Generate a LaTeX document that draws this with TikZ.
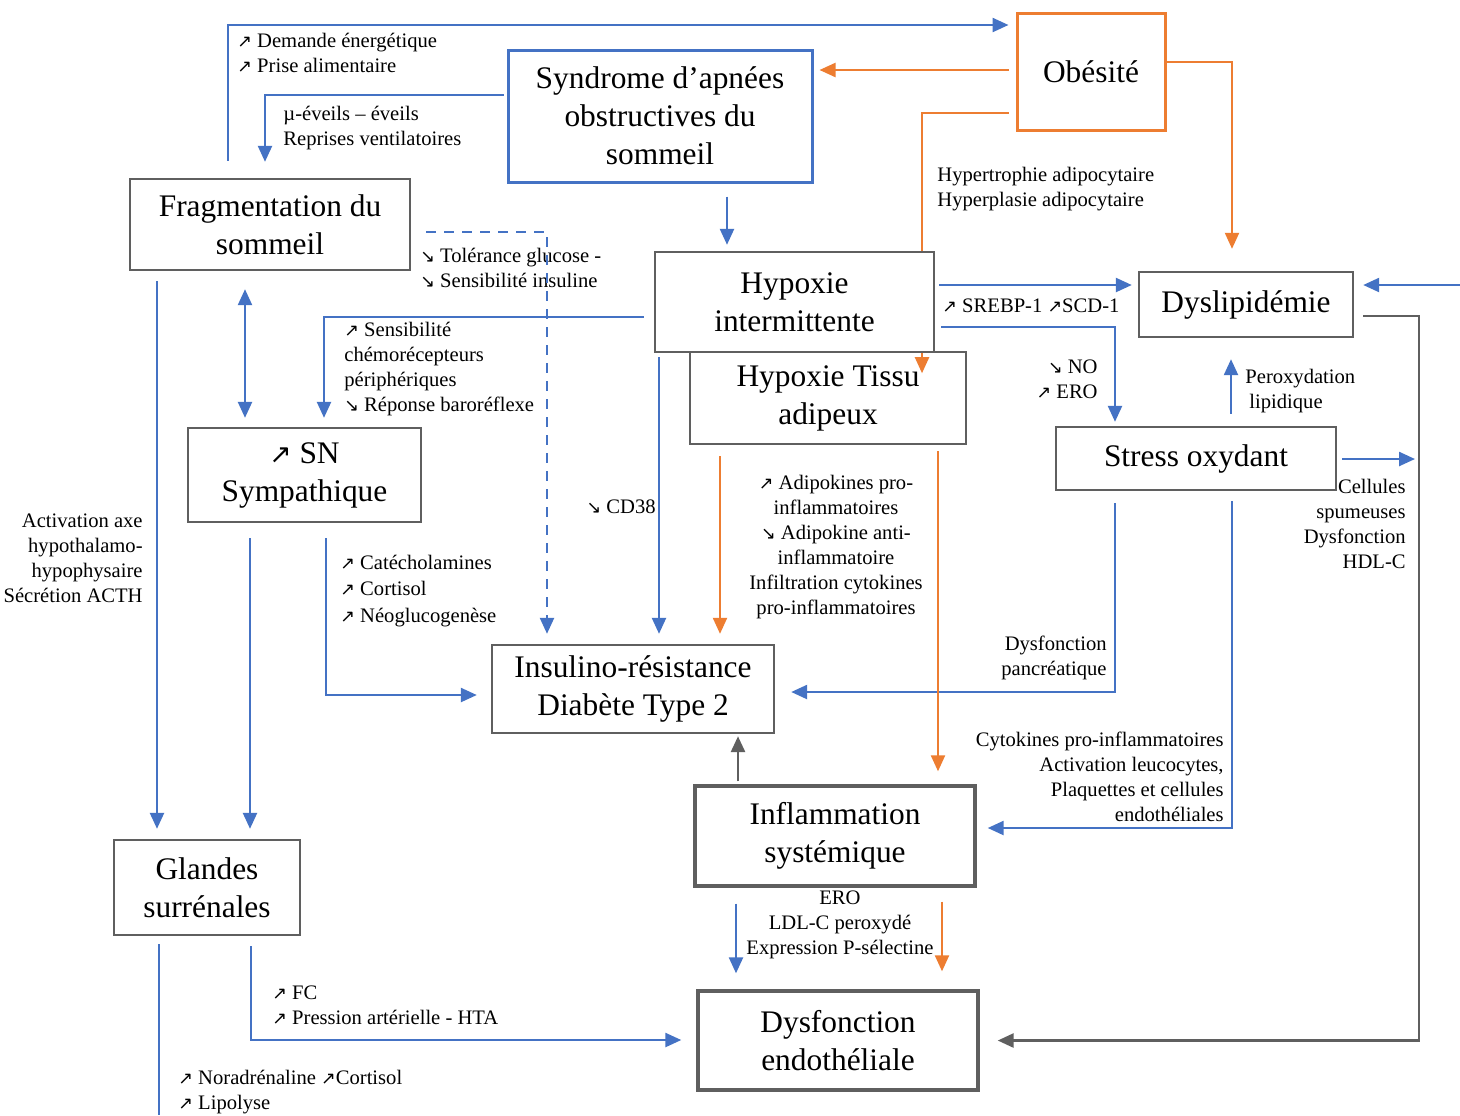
\documentclass[tikz,border=0pt]{standalone}
\usepackage{fontspec}
\setmainfont{Liberation Serif}
\newfontfamily\symfont[Scale=0.85]{DejaVu Sans}
\usetikzlibrary{arrows.meta}
\newcommand{\ua}{{\symfont ↗}}
\newcommand{\da}{{\symfont ↘}}
\newcommand{\labfont}{\fontsize{10.3}{12.5}\selectfont}
\newcommand{\boxfont}{\fontsize{15.7}{19}\selectfont}
\definecolor{cblue}{HTML}{4472C4}
\definecolor{corange}{HTML}{ED7D31}
\definecolor{cgray}{HTML}{5F5F5F}
\begin{document}
\begin{tikzpicture}[x=0.5pt,y=-0.5pt,
  >={Triangle[length=8pt,width=7pt]},
  box/.style={draw=cgray, line width=1.2pt, fill=white, inner sep=0pt, align=center, font=\boxfont},
  thickbox/.style={box, line width=1.7pt},
  bl/.style={draw=cblue, line width=1.2pt},
  ol/.style={draw=corange, line width=1.1pt},
  gl/.style={draw=cgray, line width=1.4pt},
  lab/.style={inner sep=0pt, font=\labfont, text=black}
]
\useasboundingbox (0,0) rectangle (1460,1115);
\fill[white] (0,0) rectangle (1460,1115);

% boxes
\node[box, draw=cblue, line width=1.5pt, minimum width=152pt, minimum height=66pt] (saos) at (660,116) {Syndrome d’apnées\\obstructives du\\sommeil};
\node[box, draw=corange, line width=1.5pt, minimum width=74pt, minimum height=58.5pt] (obes) at (1091,71.5) {Obésité};
\node[box, minimum width=140pt, minimum height=45.5pt] (frag) at (270,224.5) {Fragmentation du\\sommeil};
\node[box, minimum width=138pt, minimum height=46pt] (hta) at (828,398) {Hypoxie Tissu\\adipeux};
\node[box, minimum width=139.5pt, minimum height=50pt] (hi) at (794.5,302) {Hypoxie\\intermittente};
\node[box, minimum width=107pt, minimum height=32.5pt] (dys) at (1246,304.5) {Dyslipidémie};
\node[box, minimum width=116.5pt, minimum height=47pt] (sn) at (304.5,475) {\ua\ SN\\Sympathique};
\node[box, minimum width=140pt, minimum height=31.5pt] (so) at (1196,458.5) {Stress oxydant};
\node[box, minimum width=141pt, minimum height=44pt] (ir) at (633,689) {Insulino-résistance\\Diabète Type 2};
\node[thickbox, minimum width=140pt, minimum height=50pt] (inf) at (835,836) {Inflammation\\systémique};
\node[box, minimum width=93pt, minimum height=47.5pt] (gla) at (207,887.5) {Glandes\\surrénales};
\node[thickbox, minimum width=140pt, minimum height=49.5pt] (de) at (838,1040.5) {Dysfonction\\endothéliale};

% labels
\node[lab, anchor=west, align=left] (l1) at (237,52.5) {\ua\ Demande énergétique\\\ua\ Prise alimentaire};
\node[lab, anchor=west, align=left] (l2) at (283,128.5) {µ-éveils – éveils\\Reprises ventilatoires};
\node[lab, anchor=west, align=left] (l3) at (937,189.5) {Hypertrophie adipocytaire\\Hyperplasie adipocytaire};
\node[lab, anchor=west, align=left] (l4) at (420,268) {\da\ Tolérance glucose -\\\da\ Sensibilité insuline};
\node[lab, anchor=west, align=left] (l5) at (942,306) {\ua\ SREBP-1 \ua SCD-1};
\node[lab, anchor=east, align=right] (l6) at (1098,379) {\da\ NO\\\ua\ ERO};
\node[lab, anchor=west, align=left] (l7) at (1245,391) {Peroxydation\\\hspace{2pt}lipidique};
\node[lab, anchor=west, align=left] (l8) at (344,369) {\ua\ Sensibilité\\chémorécepteurs\\périphériques\\\da\ Réponse baroréflexe};
\node[lab, anchor=east, align=right] (l9) at (1406,523.5) {Cellules\\spumeuses\\Dysfonction\\HDL-C};
\node[lab, anchor=east, align=right] (l10) at (143,558.5) {Activation axe\\hypothalamo-\\hypophysaire\\Sécrétion ACTH};
\node[lab, anchor=east] (l11) at (656,507) {\da\ CD38};
\node[lab, align=center] (l12) at (836,547) {\ua\ Adipokines pro-\\inflammatoires\\\da\ Adipokine anti-\\inflammatoire\\Infiltration cytokines\\pro-inflammatoires};
\node[lab, anchor=west, align=left, font=\fontsize{10.3}{13.2}\selectfont] (l13) at (340,591) {\ua\ Catécholamines\\\ua\ Cortisol\\\ua\ Néoglucogenèse};
\node[lab, anchor=east, align=right] (l14) at (1107,658) {Dysfonction\\pancréatique};
\node[lab, anchor=east, align=right] (l15) at (1224,776.5) {Cytokines pro-inflammatoires\\Activation leucocytes,\\Plaquettes et cellules\\endothéliales};
\node[lab, align=center] (l16) at (840,925) {ERO\\LDL-C peroxydé\\Expression P-sélectine};
\node[lab, anchor=west, align=left] (l17) at (272,1005.5) {\ua\ FC\\\ua\ Pression artérielle - HTA};
\node[lab, anchor=west, align=left] (l18) at (178,1092.5) {\ua\ Noradrénaline \ua Cortisol\\\ua\ Lipolyse};

% connectors
\draw[bl,->,shorten <=8.5pt,shorten >=3.5pt] (frag.north -| 228,0) |- (obes.west |- 0,25);
\draw[bl,->,shorten <=1.5pt,shorten >=8pt] (saos.west |- 0,95) -| (frag.north -| 265,0);
\draw[ol,->,shorten <=3.5pt,shorten >=3pt] (obes.west |- 0,70) -- (saos.east |- 0,70);
\draw[ol,shorten <=3.5pt] (obes.west |- 0,113) -| (hi.north -| 922,0);
\draw[ol,->] (hi.south -| 922,0) -- ++(0,20);
\draw[ol,->,shorten >=11pt] (obes.east |- 0,62) -| (dys.north -| 1232,0);
\draw[bl,->,shorten <=6.5pt,shorten >=3pt] (saos.south -| 727,0) -- (hi.north -| 727,0);
\draw[bl,->,shorten <=2pt,shorten >=3pt] (hi.east |- 0,285) -- (dys.west |- 0,285);
\draw[bl,->,shorten <=3pt,shorten >=2pt] (hi.east |- 0,327) -| (so.north -| 1115,0);
\coordinate (redge) at (1460,285);
\draw[bl,->,shorten >=4.5pt] (redge) -- (dys.east |- redge);
\draw[gl,->,shorten <=4.5pt,shorten >=9pt] (dys.east |- 0,316) -| (de.east -| 1419,0) -- (de.east);
\draw[bl,->,shorten <=6pt,shorten >=10.5pt] (so.north -| 1231,0) -- (dys.south -| 1231,0);
\coordinate (foam) at (1415,459);
\draw[bl,->,shorten <=2.5pt] (so.east |- foam) -- (foam);
\draw[bl,->,shorten <=6pt,shorten >=8pt] (so.south -| 1115,0) |- (ir.east |- 0,692);
\draw[bl,->,shorten <=5pt,shorten >=5.5pt] (so.south -| 1232,0) |- (inf.east |- 0,828);
\draw[bl,->,dash pattern=on 5pt off 4pt,shorten <=7.5pt,shorten >=5pt] (frag.east |- 0,232) -| (ir.north -| 547,0);
\draw[bl,->,shorten <=5pt,shorten >=4.5pt] (hi.west |- 0,317) -| (sn.north -| 324,0);
\draw[bl,<->,shorten <=9pt,shorten >=4.5pt] (frag.south -| 245,0) -- (sn.north -| 245,0);
\draw[bl,->,shorten <=5pt,shorten >=5pt] (frag.south -| 157,0) -- (gla.north -| 157,0);
\draw[bl,->,shorten <=7.5pt,shorten >=5pt] (sn.south -| 250,0) -- (gla.north -| 250,0);
\draw[bl,->,shorten <=7.5pt,shorten >=7pt] (sn.south -| 326,0) |- (ir.west |- 0,695);
\draw[bl,->,shorten <=2pt,shorten >=5pt] (hi.south -| 659,0) -- (ir.north -| 659,0);
\draw[ol,->,shorten <=5.5pt,shorten >=5pt] (hta.south -| 720,0) -- (ir.north -| 720,0);
\draw[ol,->,shorten <=3pt,shorten >=6.5pt] (hta.south -| 938,0) -- (inf.north -| 938,0);
\draw[gl,->,shorten <=1.5pt,shorten >=1pt] (inf.north -| 738,0) -- (ir.south -| 738,0);
\draw[bl,->,shorten <=8pt,shorten >=8pt] (inf.south -| 736,0) -- (de.north -| 736,0);
\draw[ol,->,shorten <=7pt,shorten >=9pt] (inf.south -| 942,0) -- (de.north -| 942,0);
\draw[bl,->,shorten <=5pt,shorten >=7.5pt] (gla.south -| 251,0) |- (de.west |- 0,1040);
\coordinate (bedge) at (159,1115);
\draw[bl,shorten <=4pt] (gla.south -| bedge) -- (bedge);
\end{tikzpicture}
\end{document}
